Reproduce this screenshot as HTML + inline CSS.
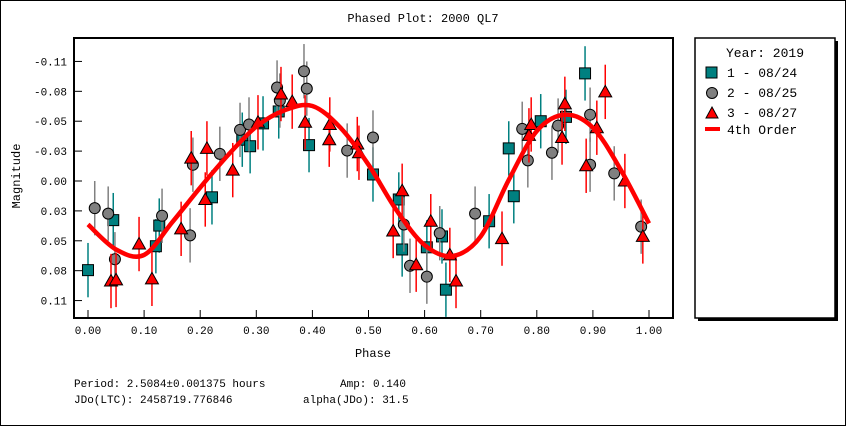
<!DOCTYPE html>
<html><head><meta charset="utf-8"><style>
html,body{margin:0;padding:0;background:#fff}
svg{display:block;font-family:"Liberation Mono",monospace}
</style></head><body>
<svg id="c" width="846" height="426" xmlns="http://www.w3.org/2000/svg">
<rect x="0.5" y="0.5" width="845" height="425" fill="#fff" stroke="#000"/>
<text x="423" y="22" text-anchor="middle" font-size="12">Phased Plot: 2000 QL7</text>
<rect x="74" y="38" width="599" height="280" fill="#fff" stroke="#000" stroke-width="2"/>
<g id="ax"></g>
<g id="marks"></g>
<text x="22" y="178" font-size="12" text-anchor="middle" transform="rotate(-90 20 178)">Magnitude</text>
<text x="373" y="357" font-size="12" text-anchor="middle">Phase</text>
<rect x="698" y="41" width="140" height="280" fill="#000"/>
<rect x="695" y="38" width="140" height="280" fill="#fff" stroke="#000" stroke-width="1.5"/>
<text x="726" y="57" font-size="13">Year: 2019</text>
<g><rect x="706" y="67" width="11" height="11" fill="#008080" stroke="#000"/><text x="727" y="77" font-size="13">1 - 08/24</text></g>
<g><circle cx="712" cy="93" r="5.5" fill="#808080" stroke="#000"/><text x="727" y="97" font-size="13">2 - 08/25</text></g>
<g><polygon points="712,107 718,118 706,118" fill="#f00" stroke="#000"/><text x="727" y="117" font-size="13">3 - 08/27</text></g>
<g><line x1="705" y1="129" x2="720" y2="129" stroke="#f00" stroke-width="4"/><text x="727" y="134" font-size="13">4th Order</text></g>
<text x="74" y="387" font-size="11" xml:space="preserve">Period: 2.5084±0.001375 hours</text>
<text x="340" y="387" font-size="11">Amp: 0.140</text>
<text x="74" y="403" font-size="11">JDo(LTC): 2458719.776846</text>
<text x="303" y="403" font-size="11">alpha(JDo): 31.5</text>
</svg>
<script>
const xTicks=[0,0.1,0.2,0.3,0.4,0.5,0.6,0.7,0.8,0.9,1.0];
const xTickLabels=["0.00","0.10","0.20","0.30","0.40","0.50","0.60","0.70","0.80","0.90","1.00"];
const yTicks=[-0.11,-0.0825,-0.055,-0.0275,0,0.0275,0.055,0.0825,0.11];
const yTickLabels=["-0.11","-0.08","-0.05","-0.03","0.00","0.03","0.05","0.08","0.11"];
const s1Phase=[0.00,0.045,0.121,0.127,0.221,0.275,0.289,0.312,0.340,0.394,0.508,0.554,0.560,0.604,0.631,0.638,0.715,0.750,0.759,0.807,0.852,0.886];
const s1Mag=[0.082,0.036,0.060,0.041,0.015,-0.038,-0.032,-0.053,-0.064,-0.033,-0.006,0.017,0.063,0.061,0.051,0.100,0.037,-0.030,0.014,-0.055,-0.059,-0.099];
const s2Phase=[0.012,0.036,0.048,0.132,0.182,0.187,0.235,0.271,0.287,0.337,0.342,0.385,0.390,0.462,0.508,0.563,0.574,0.604,0.627,0.690,0.774,0.784,0.827,0.838,0.895,0.895,0.938,0.986];
const s2Mag=[0.025,0.030,0.072,0.032,0.050,-0.015,-0.025,-0.047,-0.052,-0.086,-0.074,-0.101,-0.085,-0.028,-0.040,0.040,0.078,0.088,0.048,0.030,-0.048,-0.019,-0.026,-0.051,-0.061,-0.015,-0.007,0.042];
const s3Phase=[0.041,0.050,0.091,0.114,0.166,0.184,0.212,0.209,0.258,0.303,0.344,0.364,0.387,0.430,0.431,0.480,0.483,0.544,0.560,0.585,0.611,0.645,0.656,0.738,0.786,0.790,0.845,0.850,0.888,0.907,0.922,0.957,0.989];
const s3Mag=[0.092,0.091,0.058,0.090,0.044,-0.021,-0.030,0.017,-0.010,-0.054,-0.080,-0.073,-0.054,-0.038,-0.052,-0.034,-0.026,0.046,0.009,0.077,0.037,0.068,0.092,0.053,-0.042,-0.052,-0.040,-0.071,-0.014,-0.049,-0.082,0.000,0.051];
const magErr=0.025;
const fitPhase=[0,0.05,0.10,0.15,0.20,0.25,0.30,0.35,0.40,0.45,0.50,0.55,0.60,0.65,0.70,0.75,0.80,0.85,0.90,0.95,1.00];
const fitMag=[0.040,0.063,0.068,0.038,0.006,-0.024,-0.050,-0.065,-0.069,-0.049,-0.015,0.027,0.059,0.069,0.051,-0.001,-0.046,-0.061,-0.049,-0.010,0.039];

const NS="http://www.w3.org/2000/svg";
const X=p=>88+561*p;
const Y=m=>181+m*1087;
function mk(t,a,parent){const e=document.createElementNS(NS,t);for(const k in a)e.setAttribute(k,a[k]);parent.appendChild(e);return e;}
const ax=document.getElementById('ax'),mg=document.getElementById('marks');
xTicks.forEach((v,i)=>{
  const t=mk('line',{x1:X(v),x2:X(v),y1:310,y2:318,stroke:'#000'},ax);
  
  
  const l=mk('text',{x:X(v),y:334,'font-size':11,'text-anchor':'middle'},ax);l.textContent=xTickLabels[i];
  
  
});
yTicks.forEach((v,i)=>{
  const t=mk('line',{x1:74,x2:82,y1:Y(v),y2:Y(v),stroke:'#000'},ax);
  
  
  const l=mk('text',{x:67,y:Y(v)+4,'font-size':11,'text-anchor':'end'},ax);l.textContent=yTickLabels[i];
  
  
});
function series(ph,ma,col,shape,name){
  ph.forEach((p,i)=>{
    const x=X(p),y=Y(ma[i]);
    const e=mk('line',{x1:x,x2:x,y1:Y(ma[i]-magErr),y2:Y(ma[i]+magErr),stroke:col,'stroke-width':1.5},mg);
    
    
  });
  ph.forEach((p,i)=>{
    const x=X(p),y=Y(ma[i]);let m;
    if(shape==='sq')m=mk('rect',{x:x-5.5,y:y-5.5,width:11,height:11,fill:'#008080',stroke:'#000'},mg);
    else if(shape==='ci')m=mk('circle',{cx:x,cy:y,r:5.5,fill:'#808080',stroke:'#000'},mg);
    else m=mk('polygon',{points:`${x},${y-6.5} ${x+6.5},${y+5} ${x-6.5},${y+5}`,fill:'#f00',stroke:'#000'},mg);
    
    
  });
}
series(s1Phase,s1Mag,'#008080','sq','series-0824');
series(s2Phase,s2Mag,'#808080','ci','series-0825');
series(s3Phase,s3Mag,'#f00','tr','series-0827');
const pts=fitPhase.map((p,i)=>[X(p),Y(fitMag[i])]);
let d=`M${pts[0][0]},${pts[0][1]}`;
for(let i=0;i<pts.length-1;i++){
  const p0=pts[Math.max(0,i-1)],p1=pts[i],p2=pts[i+1],p3=pts[Math.min(pts.length-1,i+2)];
  d+=` C${p1[0]+(p2[0]-p0[0])/6},${p1[1]+(p2[1]-p0[1])/6} ${p2[0]-(p3[0]-p1[0])/6},${p2[1]-(p3[1]-p1[1])/6} ${p2[0]},${p2[1]}`;
}
const f=mk('path',{d:d,fill:'none',stroke:'#f00','stroke-width':4.5},mg);


</script>
</body></html>
